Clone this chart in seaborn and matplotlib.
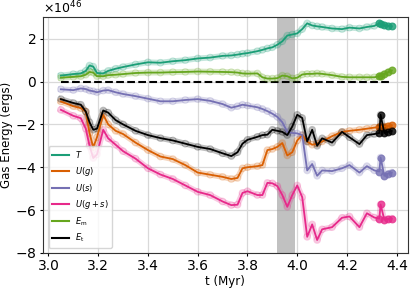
import numpy as np
import pandas as pd
import matplotlib
matplotlib.use("Agg")
import matplotlib.pyplot as plt
import seaborn as sns

t = [3.05, 3.10, 3.13, 3.15, 3.165, 3.18, 3.195, 3.22, 3.24, 3.27, 3.30, 3.35, 3.40, 3.45,
     3.50, 3.55, 3.60, 3.65, 3.70, 3.735, 3.76, 3.78, 3.80, 3.84, 3.86, 3.88, 3.90, 3.92,
     3.94, 3.96, 3.98, 4.00, 4.02, 4.04, 4.06, 4.08, 4.10, 4.14, 4.18, 4.21, 4.25, 4.28,
     4.31, 4.33, 4.335, 4.35, 4.365, 4.38]

T_kin = [0.28, 0.35, 0.38, 0.5, 0.75, 0.7, 0.4, 0.38, 0.5, 0.6, 0.68, 0.8, 0.9, 0.88,
         0.95, 1.0, 1.08, 1.12, 1.2, 1.22, 1.26, 1.3, 1.33, 1.42, 1.48, 1.55, 1.6, 1.72,
         1.88, 2.15, 2.2, 2.25, 2.45, 2.72, 2.62, 2.58, 2.55, 2.48, 2.45, 2.52, 2.48, 2.55,
         2.6, 2.72, 2.68, 2.62, 2.6, 2.58]
U_g = [-0.93, -1.15, -1.24, -1.4, -2.4, -3.07, -2.6, -1.55, -2.0, -2.3, -2.45, -2.85, -3.2, -3.5,
       -3.62, -3.9, -4.25, -4.35, -4.45, -4.55, -4.5, -4.05, -4.0, -3.95, -3.9, -3.2, -3.15, -3.05,
       -2.87, -3.45, -3.3, -2.75, -2.5, -2.8, -2.95, -2.9, -2.8, -2.55, -2.35, -2.3, -2.25, -2.2,
       -2.15, -2.12, -2.1, -2.1, -2.08, -2.05]
U_s = [-0.36, -0.4, -0.32, -0.35, -0.42, -0.45, -0.5, -0.42, -0.4, -0.5, -0.58, -0.68, -0.8, -0.92,
       -0.92, -0.86, -0.82, -0.9, -1.05, -1.22, -1.15, -1.08, -1.12, -1.2, -1.28, -1.38, -1.5, -1.65,
       -1.9, -2.35, -2.4, -2.42, -2.5, -4.15, -3.85, -4.4, -4.15, -4.18, -4.05, -3.9, -4.25, -3.95,
       -4.15, -4.2, -3.55, -4.4, -4.3, -4.25]
U_gs = [-1.32, -1.6, -1.71, -2.2, -3.0, -3.57, -3.4, -2.25, -2.65, -2.95, -3.25, -3.6, -4.05, -4.34,
        -4.55, -4.85, -5.15, -5.3, -5.6, -5.77, -5.75, -5.2, -5.12, -5.3, -5.3, -4.73, -4.75, -4.88,
        -5.3, -5.85, -5.3, -4.85, -5.4, -7.25, -6.67, -7.4, -6.9, -6.8, -6.36, -6.3, -6.8, -6.15,
        -6.35, -6.4, -5.74, -6.45, -6.42, -6.4]
E_m = [0.18, 0.22, 0.25, 0.32, 0.45, 0.42, 0.25, 0.25, 0.3, 0.32, 0.35, 0.4, 0.42, 0.42,
       0.44, 0.45, 0.47, 0.46, 0.45, 0.44, 0.42, 0.38, 0.37, 0.38, 0.2, 0.14, 0.14, 0.16,
       0.28, 0.25, 0.15, 0.18, 0.33, 0.36, 0.36, 0.38, 0.36, 0.3, 0.22, 0.2, 0.2, 0.2,
       0.2, 0.25, 0.28, 0.36, 0.44, 0.52]
E_t = [-0.82, -1.0, -1.08, -1.4, -1.9, -2.25, -2.2, -1.35, -1.45, -1.8, -2.0, -2.3, -2.5, -2.64,
       -2.75, -2.9, -3.05, -3.15, -3.35, -3.48, -3.3, -2.9, -2.72, -2.58, -2.5, -2.48, -2.25, -2.3,
       -2.35, -2.5, -2.1, -1.55, -1.7, -2.8, -2.25, -3.0, -2.65, -2.85, -2.35, -2.6, -2.92, -2.5,
       -2.45, -2.4, -1.55, -2.4, -2.35, -2.3]

labels = ["$T$", "$U(g)$", "$U(s)$", "$U(g+s)$", r"$E_{\rm m}$", r"$E_{\rm t}$"]
series = [T_kin, U_g, U_s, U_gs, E_m, E_t]
colors = ["#1b9e77", "#d95f02", "#7570b3", "#e7298a", "#66a61e", "#000000"]
scale = 1e46
shade = (3.92, 3.99)

rows = []
for lab, vals in zip(labels, series):
    for tt, v in zip(t, vals):
        rows.append({"t": tt, "E": v * scale, "series": lab})
df = pd.DataFrame(rows)
pal = dict(zip(labels, colors))

fig = plt.figure(figsize=(4.15, 2.89), dpi=100)
ax = fig.add_axes([0.103, 0.125, 0.880, 0.815])
ax.grid(True, color="0.85", lw=0.9, zorder=0)
ax.set_axisbelow(True)
for sp in ax.spines.values():
    sp.set_color("0.2")

ax.axvspan(shade[0], shade[1], color="0.6", alpha=0.6, zorder=1, lw=0)
ax.plot([t[0], t[-1]], [0, 0], ls="--", color="k", lw=1.5, zorder=2)

# raw points (open circles)
for lab in labels:
    sub = df[df.series == lab]
    ax.scatter(sub.t, sub.E, s=22, facecolors="none", edgecolors=pal[lab],
               alpha=0.25, lw=0.8, zorder=3)
    end = sub[sub.t >= 4.33]
    ax.scatter(end.t, end.E, s=24, color=pal[lab], alpha=0.75, lw=0.8, zorder=3)

# halo
sns.lineplot(data=df, x="t", y="E", hue="series", palette=pal, hue_order=labels,
             estimator=None, sort=False, lw=4.2, alpha=0.25, legend=False, ax=ax, zorder=4)
# main lines
sns.lineplot(data=df, x="t", y="E", hue="series", palette=pal, hue_order=labels,
             estimator=None, sort=False, lw=1.3, ax=ax, zorder=5)

ax.set_xlim(2.977, 4.445)
ax.set_ylim(-8e46, 3.0e46)
ax.set_xticks([3.0, 3.2, 3.4, 3.6, 3.8, 4.0, 4.2, 4.4])
ax.ticklabel_format(axis="y", style="sci", scilimits=(0, 0), useMathText=True)
ax.yaxis.get_offset_text().set_fontsize(9)
ax.tick_params(labelsize=10, length=2.5, pad=2)
ax.set_xlabel("t (Myr)", fontsize=8.5, labelpad=1)
ax.set_ylabel("Gas Energy (ergs)", fontsize=8.5, labelpad=1)

leg = ax.legend(loc="lower left", fontsize=6, frameon=True, handlelength=2.0,
                borderpad=0.4, labelspacing=0.5, handletextpad=0.7,
                bbox_to_anchor=(0.005, 0.005))
for line in leg.get_lines():
    line.set_linewidth(1.5)
    line.set_alpha(1)

fig.savefig("out.png", dpi=100)
